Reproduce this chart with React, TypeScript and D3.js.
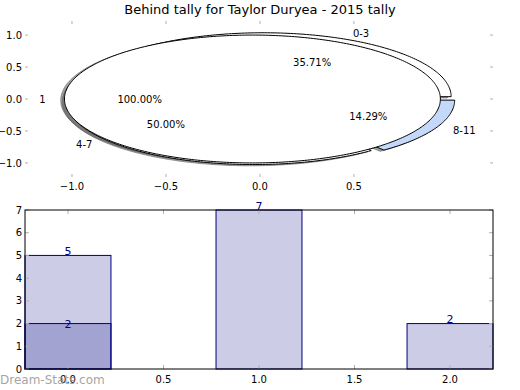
import React from 'react';
import * as d3 from 'd3';

const title = 'Behind tally for Taylor Duryea - 2015 tally';
const outerLabels = ['0-3', '4-7', '8-11'];
const outerValues = [5, 7, 2];
const outerColors = ['#ffffff', '#ffffff', '#c4d8fa'];
const innerLabels = ['1'];
const innerValues = [14];
const innerColors = ['#ffffff'];

const pieXTicks = [-1, -0.5, 0, 0.5];
const pieYTicks = [1, 0.5, 0, -0.5, -1];

const barCategories = [0, 1, 2];
const barTotals = [5, 7, 2];
const barOverlay = [2, 0, 0];
const barXTicks = [0, 0.5, 1, 1.5, 2];
const barYTicks = [0, 1, 2, 3, 4, 5, 6, 7];

const FONT = 'DejaVu Sans, sans-serif';
const TICK = '#b0b0b0';

export default function App() {
  // top pie axes
  const px = d3.scaleLinear().domain([-1.25, 1.24]).range([25, 493]);
  const py = d3.scaleLinear().domain([-1.22, 1.22]).range([177, 21]);
  const explode = 0.04;
  const deg = Math.PI / 180;

  const line = d3
    .line<[number, number]>()
    .x((d) => px(d[0]))
    .y((d) => py(d[1]));

  const wedge = (cx: number, cy: number, r: number, a0: number, a1: number) => {
    const full = Math.abs(a1 - a0 - 360) < 1e-9;
    const n = Math.max(8, Math.ceil((a1 - a0) / 1));
    const pts: [number, number][] = [];
    if (!full) pts.push([cx, cy]);
    for (let i = 0; i <= n; i++) {
      const a = (a0 + ((a1 - a0) * i) / n) * deg;
      pts.push([cx + r * Math.cos(a), cy + r * Math.sin(a)]);
    }
    return line(pts) + 'Z';
  };

  const buildPie = (values: number[], labels: string[], colors: string[]) => {
    const total = d3.sum(values);
    let start = 0;
    return values.map((v, i) => {
      const span = (v / total) * 360;
      const a0 = start;
      const a1 = start + span;
      start = a1;
      const mid = ((a0 + a1) / 2) * deg;
      const cx = explode * Math.cos(mid);
      const cy = explode * Math.sin(mid);
      const lx = cx + 1.1 * Math.cos(mid);
      const ly = cy + 1.1 * Math.sin(mid);
      const tx = cx + 0.6 * Math.cos(mid);
      const ty = cy + 0.6 * Math.sin(mid);
      return {
        d: wedge(cx, cy, 1, a0, a1),
        color: colors[i],
        label: labels[i],
        lx, ly, tx, ty,
        pct: ((v / total) * 100).toFixed(2) + '%',
      };
    });
  };

  const outer = buildPie(outerValues, outerLabels, outerColors);
  const inner = buildPie(innerValues, innerLabels, innerColors);
  const shdx = px(-0.02) - px(0);
  const shdy = py(-0.02) - py(0);

  // bottom bar axes
  const bx = d3.scaleLinear().domain([-0.225, 2.225]).range([25, 493]);
  const by = d3.scaleLinear().domain([0, 7]).range([369, 210]);
  const bw = 0.45;

  const allWedges = [...outer, ...inner];

  return (
    <svg width={520} height={390} style={{ position: 'absolute', left: 0, top: 0, background: '#fff' }}>
      <rect x={0} y={0} width={520} height={390} fill="#fff" />
      <text x={260} y={14} textAnchor="middle" fontFamily={FONT} fontSize={13} fill="#000">
        {title}
      </text>

      {/* pie ticks */}
      {pieXTicks.map((t) => (
        <g key={'px' + t}>
          <line x1={px(t)} x2={px(t)} y1={21} y2={24} stroke={TICK} />
          <line x1={px(t)} x2={px(t)} y1={177} y2={174} stroke={TICK} />
          <text x={px(t)} y={190} textAnchor="middle" fontFamily={FONT} fontSize={10}>
            {(t < 0 ? '\u2212' : '') + Math.abs(t).toFixed(1)}
          </text>
        </g>
      ))}
      {pieYTicks.map((t) => (
        <g key={'py' + t}>
          <line x1={25} x2={28} y1={py(t)} y2={py(t)} stroke={TICK} />
          <line x1={493} x2={490} y1={py(t)} y2={py(t)} stroke={TICK} />
          <text x={22} y={py(t)} dy="0.36em" textAnchor="end" fontFamily={FONT} fontSize={10}>
            {(t < 0 ? '\u2212' : '') + Math.abs(t).toFixed(1)}
          </text>
        </g>
      ))}

      {/* shadows */}
      {allWedges.map((w, i) => {
        const c = d3.rgb(w.color);
        const sc = d3.rgb(c.r * 0.3, c.g * 0.3, c.b * 0.3).toString();
        return (
          <path key={'s' + i} d={w.d} transform={`translate(${shdx},${shdy})`} fill={sc} stroke={sc} fillOpacity={0.5} strokeOpacity={0.5} />
        );
      })}
      {outer.map((w, i) => (
        <path key={'o' + i} d={w.d} fill={w.color} stroke="#000" strokeWidth={1} />
      ))}
      {inner.map((w, i) => (
        <path key={'i' + i} d={w.d} fill={w.color} stroke="#000" strokeWidth={1} />
      ))}
      {allWedges.map((w, i) => (
        <g key={'l' + i} fontFamily={FONT} fontSize={10}>
          <text x={px(w.lx)} y={py(w.ly)} dy="0.36em" textAnchor={w.lx > 0 ? 'start' : 'end'}>
            {w.label}
          </text>
          <text x={px(w.tx)} y={py(w.ty)} dy="0.36em" textAnchor="middle">
            {w.pct}
          </text>
        </g>
      ))}

      {/* bar chart */}
      {barCategories.map((c, i) => (
        <rect key={'b' + i} x={bx(c - bw / 2)} y={by(barTotals[i])} width={bx(c + bw / 2) - bx(c - bw / 2)} height={by(0) - by(barTotals[i])} fill="navy" fillOpacity={0.2} stroke="navy" strokeWidth={1} />
      ))}
      {barCategories.map((c, i) =>
        barOverlay[i] > 0 ? (
          <rect key={'bo' + i} x={bx(c - bw / 2)} y={by(barOverlay[i])} width={bx(c + bw / 2) - bx(c - bw / 2)} height={by(0) - by(barOverlay[i])} fill="navy" fillOpacity={0.2} stroke="navy" strokeWidth={1} />
        ) : null
      )}
      {barXTicks.map((t) => (
        <g key={'bx' + t}>
          <line x1={bx(t)} x2={bx(t)} y1={369} y2={365} stroke={TICK} />
          <line x1={bx(t)} x2={bx(t)} y1={210} y2={214} stroke={TICK} />
          <text x={bx(t)} y={383} textAnchor="middle" fontFamily={FONT} fontSize={10}>
            {t.toFixed(1)}
          </text>
        </g>
      ))}
      {barYTicks.map((t) => (
        <g key={'by' + t}>
          <line x1={25} x2={29} y1={by(t)} y2={by(t)} stroke={TICK} />
          <line x1={493} x2={489} y1={by(t)} y2={by(t)} stroke={TICK} />
          <text x={22} y={by(t)} dy="0.36em" textAnchor="end" fontFamily={FONT} fontSize={10}>
            {String(t)}
          </text>
        </g>
      ))}
      <rect x={25} y={210} width={468} height={159} fill="none" stroke="#000" strokeWidth={1} />
      {barCategories.map((c, i) => (
        <text key={'bl' + i} x={bx(c)} y={by(barTotals[i]) - 0.5} textAnchor="middle" fontFamily={FONT} fontSize={11} fill="navy">
          {String(barTotals[i])}
        </text>
      ))}
      {barCategories.map((c, i) =>
        barOverlay[i] > 0 ? (
          <text key={'bol' + i} x={bx(c)} y={by(barOverlay[i]) + 4} textAnchor="middle" fontFamily={FONT} fontSize={11} fill="navy">
            {String(barOverlay[i])}
          </text>
        ) : null
      )}
      <text x={0} y={384} fontFamily={FONT} fontSize={12} fill="#999" fillOpacity={0.9}>
        Dream-Stats.com
      </text>
    </svg>
  );
}
